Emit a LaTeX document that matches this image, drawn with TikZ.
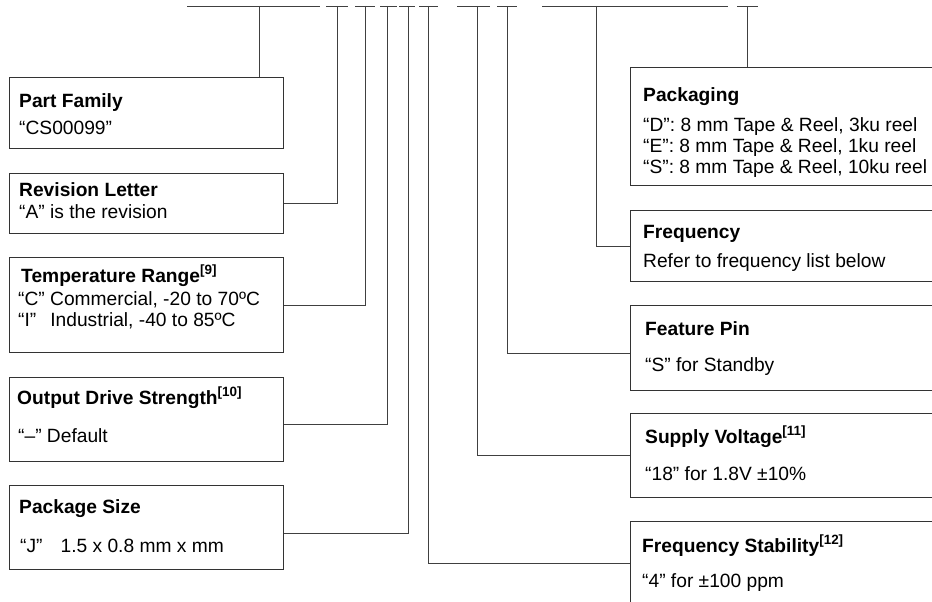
\documentclass[tikz,border=0pt]{standalone}
\usepackage{fontspec}
\setmainfont{Liberation Sans}
\begin{document}
\begin{tikzpicture}[x=1pt,y=-1pt,
  box/.style={draw=black!80,line width=0.9pt,inner sep=0pt,anchor=north west},
  conn/.style={draw=black!75,line width=0.9pt},
  ttl/.style={anchor=base west,inner sep=0pt,font=\fontsize{19.2}{22}\selectfont\bfseries},
  txt/.style={anchor=base west,inner sep=0pt,font=\fontsize{19.2}{22}\selectfont},
]
\useasboundingbox (0,0) rectangle (932,602);
\clip (0,0) rectangle (932,602);

% top bar segments
\foreach \a/\b in {187/320,326/348,355/375,380/397,399/415,419/438,457/490,497/517,542/728,737/758}
  \draw[conn] (\a,6) -- (\b,6);

% stems on the top bar
\coordinate (tpf) at (259,6);
\coordinate (trev) at (337,6);
\coordinate (ttmp) at (365,6);
\coordinate (tout) at (387,6);
\coordinate (tpkg) at (408,6);
\coordinate (tfst) at (428,6);
\coordinate (tsup) at (477,6);
\coordinate (tfea) at (507,6);
\coordinate (tfrq) at (596,6);
\coordinate (tpak) at (747,6);

% left boxes
\node[box,minimum width=274pt,minimum height=71pt] (pf)  at (9,77) {};
\node[box,minimum width=274pt,minimum height=60pt] (rev) at (9,173) {};
\node[box,minimum width=274pt,minimum height=95pt] (tmp) at (9,257) {};
\node[box,minimum width=274pt,minimum height=84pt] (out) at (9,377) {};
\node[box,minimum width=274pt,minimum height=84pt] (pkg) at (9,485) {};

% right boxes
\node[box,minimum width=320pt,minimum height=118pt] (pak) at (630,67) {};
\node[box,minimum width=320pt,minimum height=71pt]  (frq) at (630,210) {};
\node[box,minimum width=320pt,minimum height=85pt]  (fea) at (630,305) {};
\node[box,minimum width=320pt,minimum height=84pt]  (sup) at (630,413) {};
\node[box,minimum width=320pt,minimum height=100pt] (fst) at (630,521) {};

% texts
\node[ttl] (pft) at (19,107) {Part Family};
\node[txt] (pfb) at (19,134) {“CS00099”};
\node[ttl] (revt) at (19,196) {Revision Letter};
\node[txt] (revb) at (19,218) {“A” is the revision};
\node[ttl] (tmpt) at (21,282) {Temperature Range\textsuperscript{[9]}};
\node[txt] (tmpb1) at (18,305) {“C” Commercial, -20 to 70ºC};
\node[txt] (tmpb2) at (18,326) {“I”\hspace{14pt}Industrial, -40 to 85ºC};
\node[ttl] (outt) at (17,404) {Output Drive Strength\textsuperscript{[10]}};
\node[txt] (outb) at (18,442) {“–” Default};
\node[ttl] (pkgt) at (19,513) {Package Size};
\node[txt] (pkgb) at (20,552) {“J”\hspace{18pt}1.5 x 0.8 mm x mm};

\node[ttl] (pakt) at (643,102) {Packaging};
\node[txt] (pakb1) at (643,131) {“D”: 8 mm Tape \& Reel, 3ku reel};
\node[txt] (pakb2) at (643,152) {“E”: 8 mm Tape \& Reel, 1ku reel};
\node[txt] (pakb3) at (643,173) {“S”: 8 mm Tape \& Reel, 10ku reel};
\node[ttl] (frqt) at (643,238) {Frequency};
\node[txt] (frqb) at (643,267) {Refer to frequency list below};
\node[ttl] (feat) at (645,335) {Feature Pin};
\node[txt] (feab) at (645,371) {“S” for Standby};
\node[ttl] (supt) at (645,443) {Supply Voltage\textsuperscript{[11]}};
\node[txt] (supb) at (645,480) {“18” for 1.8V ±10\%};
\node[ttl] (fstt) at (642,552) {Frequency Stability\textsuperscript{[12]}};
\node[txt] (fstb) at (642,587) {“4” for ±100 ppm};

% connectors
\draw[conn] (tpf) -- (pf.north -| tpf);
\draw[conn] (trev) |- (rev.east);
\draw[conn] (ttmp) |- (tmp.east);
\draw[conn] (tout) |- ([yshift=-5pt]out.east);
\draw[conn] (tpkg) |- ([yshift=-6pt]pkg.east);
\draw[conn] (tfst) |- ([yshift=-42pt]fst.north west);
\draw[conn] (tsup) |- (sup.west);
\draw[conn] (tfea) |- ([yshift=-5pt]fea.west);
\draw[conn] (tfrq) |- (frq.west);
\draw[conn] (tpak) -- (pak.north -| tpak);
\end{tikzpicture}
\end{document}
